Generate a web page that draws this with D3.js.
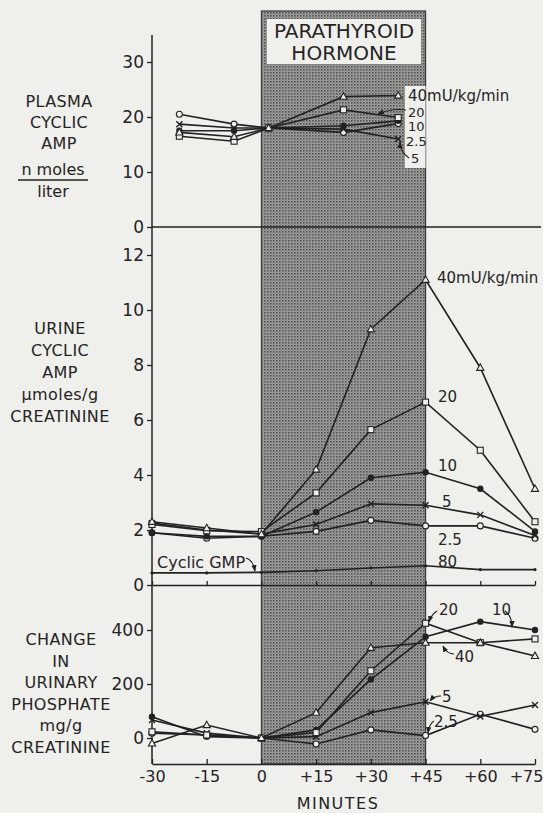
<!DOCTYPE html>
<html>
<head>
<meta charset="utf-8">
<script src="https://cdn.jsdelivr.net/npm/d3@7"></script>
<style>
  body { margin: 0; background: #efefec; }
  text { font-family: "DejaVu Sans", sans-serif; fill: #242424; }
</style>
</head>
<body>
<script>
// time points (minutes)
let minutes = [-30, -15, 0, 15, 30, 45, 60, 75];
let plasmaMinutes = [-22.5, -7.5, 2, 22.5, 37.5];
let xTickLabels = ["-30", "-15", "0", "+15", "+30", "+45", "+60", "+75"];

let doses = ["40", "20", "10", "5", "2.5"];
let symbols = ["triangle", "square", "dot", "cross", "circle"];

// plasma cyclic AMP, nmoles/liter
let plasma40 = [17.2, 16.4, 18.0, 23.7, 23.9];
let plasma20 = [16.5, 15.6, 18.0, 21.3, 19.9];
let plasma10 = [17.5, 17.5, 18.0, 18.4, 19.3];
let plasma5 = [18.7, 18.0, 18.0, 17.8, 16.0];
let plasma25 = [20.5, 18.7, 18.0, 17.2, 18.8];

// urine cyclic AMP, umoles/g creatinine
let urine40 = [2.3, 2.07, 1.85, 4.2, 9.3, 11.1, 7.9, 3.5];
let urine20 = [2.2, 1.97, 1.94, 3.35, 5.65, 6.65, 4.9, 2.3];
let urine10 = [1.9, 1.77, 1.77, 2.65, 3.9, 4.1, 3.5, 1.95];
let urine5 = [2.25, 2.0, 1.85, 2.2, 2.95, 2.9, 2.55, 1.8];
let urine25 = [1.9, 1.7, 1.77, 1.95, 2.35, 2.15, 2.15, 1.7];
let cyclicGMP80 = [0.44, 0.44, 0.46, 0.52, 0.62, 0.7, 0.56, 0.56];

// change in urinary phosphate, mg/g creatinine
let phos40 = [-20, 48, 0, 94, 334, 353, 353, 304];
let phos20 = [23, 11, 0, 20, 249, 425, 353, 367];
let phos10 = [79, 5, 0, 30, 217, 375, 431, 400];
let phos5 = [67, 18, 0, 5, 94, 134, 80, 122];
let phos25 = [18, 11, 0, -22, 30, 9, 88, 32];

let plasmaTicks = [0, 10, 20, 30];
let urineTicks = [0, 2, 4, 6, 8, 10, 12];
let phosTicks = [0, 200, 400];

let w = 543;
let h = 813;
let ink = "#222";
let paper = "#efefec";

let svg = d3.select("body").append("svg")
  .attr("width", w)
  .attr("height", h);

svg.append("rect").attr("width", w).attr("height", h).attr("fill", paper);

// halftone pattern for the infusion period
let defs = svg.append("defs");
let pat = defs.append("pattern")
  .attr("id", "dots")
  .attr("width", 3).attr("height", 3)
  .attr("patternUnits", "userSpaceOnUse");
pat.append("rect").attr("width", 3).attr("height", 3).attr("fill", "#a3a3a1");
pat.append("rect").attr("width", 1.6).attr("height", 1.6).attr("fill", "#4e4e4e");
pat.append("rect").attr("x", 1.5).attr("y", 1.5).attr("width", 1.2).attr("height", 1.2).attr("fill", "#777");

defs.append("marker")
  .attr("id", "arrow")
  .attr("viewBox", "0 0 10 10")
  .attr("refX", 9).attr("refY", 5)
  .attr("markerWidth", 6).attr("markerHeight", 6)
  .attr("orient", "auto")
  .append("path")
  .attr("d", "M0,1 L10,5 L0,9 Z")
  .attr("fill", ink);

let x = d3.scaleLinear().domain([-30, 75]).range([152, 535]);
let yTop = d3.scaleLinear().domain([0, 30]).range([227, 62]);
let yMid = d3.scaleLinear().domain([0, 12]).range([585, 255]);
let yBot = d3.scaleLinear().domain([0, 400]).range([738, 630]);

// shaded infusion period
svg.append("rect")
  .attr("x", x(0))
  .attr("y", 11)
  .attr("width", x(45) - x(0))
  .attr("height", 764 - 11)
  .attr("fill", "url(#dots)")
  .attr("stroke", "#3a3a3a")
  .attr("stroke-width", 1.2);

// title box
svg.append("rect")
  .attr("x", 267).attr("y", 19)
  .attr("width", 154).attr("height", 45)
  .attr("fill", paper);
svg.append("text").attr("x", 344).attr("y", 38)
  .attr("text-anchor", "middle").attr("font-size", 20)
  .text("PARATHYROID");
svg.append("text").attr("x", 344).attr("y", 60)
  .attr("text-anchor", "middle").attr("font-size", 20)
  .text("HORMONE");

// white box behind the plasma dose labels
svg.append("rect")
  .attr("x", 405).attr("y", 86)
  .attr("width", x(45) - 405).attr("height", 82)
  .attr("fill", paper);

// left axis line
svg.append("line")
  .attr("x1", 152).attr("x2", 152)
  .attr("y1", 35).attr("y2", 764)
  .attr("stroke", ink).attr("stroke-width", 1.5);

function yAxis(scale, ticks) {
  let g = svg.append("g")
    .attr("transform", "translate(152,0)")
    .call(d3.axisLeft(scale).tickValues(ticks).tickSize(5).tickPadding(3));
  g.select(".domain").remove();
  g.selectAll("line").attr("stroke", ink).attr("stroke-width", 1.3);
  g.selectAll("text").attr("font-size", 17);
  g.attr("font-family", null);
  return g;
}
yAxis(yTop, plasmaTicks);
yAxis(yMid, urineTicks);
yAxis(yBot, phosTicks);

// zero line of plasma panel
svg.append("line")
  .attr("x1", 152).attr("x2", 541)
  .attr("y1", yTop(0)).attr("y2", yTop(0))
  .attr("stroke", ink).attr("stroke-width", 1.3);

// zero line of urine panel with small ticks
let midAxis = svg.append("g")
  .attr("transform", "translate(0," + yMid(0) + ")")
  .call(d3.axisBottom(x).tickValues(minutes).tickSizeInner(-4).tickSizeOuter(0).tickFormat(""));
midAxis.selectAll("line, path").attr("stroke", ink).attr("stroke-width", 1.3);

// bottom axis
let botAxis = svg.append("g")
  .attr("transform", "translate(0,764)")
  .call(d3.axisBottom(x).tickValues(minutes).tickSizeInner(-5).tickSizeOuter(0)
    .tickPadding(7).tickFormat((d, i) => xTickLabels[i]));
botAxis.selectAll("line, path").attr("stroke", ink).attr("stroke-width", 1.3);
botAxis.selectAll("text").attr("font-size", 16);
botAxis.attr("font-family", null);
// last label sits against the page edge
botAxis.selectAll(".tick").filter(d => d === 75).select("text").attr("dx", -9);

svg.append("text").attr("x", 338).attr("y", 809)
  .attr("text-anchor", "middle").attr("font-size", 16)
  .attr("letter-spacing", 1.5)
  .text("MINUTES");

// marks
function marker(g, type, cx, cy) {
  if (type === "triangle") {
    g.append("path")
      .attr("d", `M${cx},${cy - 3.8} L${cx + 3.6},${cy + 2.6} L${cx - 3.6},${cy + 2.6} Z`)
      .attr("fill", paper).attr("stroke", ink).attr("stroke-width", 1.1);
  } else if (type === "square") {
    g.append("rect")
      .attr("x", cx - 3).attr("y", cy - 3).attr("width", 6).attr("height", 6)
      .attr("fill", paper).attr("stroke", ink).attr("stroke-width", 1.1);
  } else if (type === "dot") {
    g.append("circle").attr("cx", cx).attr("cy", cy).attr("r", 3.2).attr("fill", ink);
  } else if (type === "cross") {
    g.append("path")
      .attr("d", `M${cx - 3},${cy - 3} L${cx + 3},${cy + 3} M${cx - 3},${cy + 3} L${cx + 3},${cy - 3}`)
      .attr("stroke", ink).attr("stroke-width", 1.4);
  } else if (type === "circle") {
    g.append("circle").attr("cx", cx).attr("cy", cy).attr("r", 3)
      .attr("fill", paper).attr("stroke", ink).attr("stroke-width", 1.1);
  } else {
    g.append("circle").attr("cx", cx).attr("cy", cy).attr("r", 1.6).attr("fill", ink);
  }
}

function series(times, values, yScale, type) {
  let g = svg.append("g");
  let line = d3.line()
    .x((d, i) => x(times[i]))
    .y(d => yScale(d));
  g.append("path")
    .attr("d", line(values))
    .attr("fill", "none")
    .attr("stroke", ink)
    .attr("stroke-width", 1.6);
  values.forEach((v, i) => marker(g, type, x(times[i]), yScale(v)));
}

let plasmaSets = [plasma40, plasma20, plasma10, plasma5, plasma25];
let urineSets = [urine40, urine20, urine10, urine5, urine25];
let phosSets = [phos40, phos20, phos10, phos5, phos25];

series(minutes, cyclicGMP80, yMid, "small");
for (let i = doses.length - 1; i >= 0; i--) {
  series(plasmaMinutes, plasmaSets[i], yTop, symbols[i]);
  series(minutes, urineSets[i], yMid, symbols[i]);
  series(minutes, phosSets[i], yBot, symbols[i]);
}

// labels
function label(tx, ty, str, size) {
  svg.append("text").attr("x", tx).attr("y", ty)
    .attr("font-size", size || 15).text(str);
}
function leader(d, arrow) {
  let p = svg.append("path").attr("d", d)
    .attr("fill", "none").attr("stroke", ink).attr("stroke-width", 1.1);
  if (arrow) p.attr("marker-end", "url(#arrow)");
}

// plasma panel dose labels
label(408, 101, doses[0] + "mU/kg/min", 15);
label(408, 117, doses[1], 13);
label(408, 131, doses[2], 13);
label(406, 146, doses[4], 13);
label(411, 163, doses[3], 13);
leader("M406,110 Q392,108 378,114", true);
leader("M409,158 Q400,152 400,142", true);

// urine panel dose labels
label(437, 283, doses[0] + "mU/kg/min", 15);
label(438, 402, doses[1], 15);
label(438, 471, doses[2], 15);
label(442, 507, doses[3], 15);
label(438, 545, doses[4], 15);
label(438, 567, "80", 15);
label(157, 568, "Cyclic GMP", 16);
leader("M246,558 Q253,560 255,571", true);

// phosphate panel dose labels
label(439, 615, doses[1], 15);
leader("M437,611 Q431,615 429,622", true);
label(492, 615, doses[2], 15);
leader("M505,611 Q512,616 512,627", true);
label(455, 662, doses[0], 15);
leader("M454,654 Q447,654 443,646", true);
label(442, 702, doses[3], 15);
leader("M441,696 Q434,696 430,701", true);
label(434, 727, doses[4], 15);
leader("M434,721 Q429,724 428,733", true);

// y axis titles
let plasmaTitle = ["PLASMA", "CYCLIC", "AMP"];
let urineTitle = ["URINE", "CYCLIC", "AMP", "\u00b5moles/g", "CREATININE"];
let phosTitle = ["CHANGE", "IN", "URINARY", "PHOSPHATE", "mg/g", "CREATININE"];

function title(lines, y0, step, cx) {
  lines.forEach((s, i) => {
    svg.append("text")
      .attr("x", cx).attr("y", y0 + i * step)
      .attr("text-anchor", "middle")
      .attr("font-size", 16)
      .attr("letter-spacing", 0.4)
      .text(s);
  });
}
title(plasmaTitle, 107, 21, 59);
svg.append("text").attr("x", 53).attr("y", 175)
  .attr("text-anchor", "middle").attr("font-size", 16).text("n moles");
svg.append("line").attr("x1", 18).attr("x2", 88).attr("y1", 180).attr("y2", 180)
  .attr("stroke", ink).attr("stroke-width", 1.3);
svg.append("text").attr("x", 53).attr("y", 197)
  .attr("text-anchor", "middle").attr("font-size", 16).text("liter");

title(urineTitle, 334, 22, 60);
title(phosTitle, 645, 21.6, 61);
</script>
</body>
</html>
